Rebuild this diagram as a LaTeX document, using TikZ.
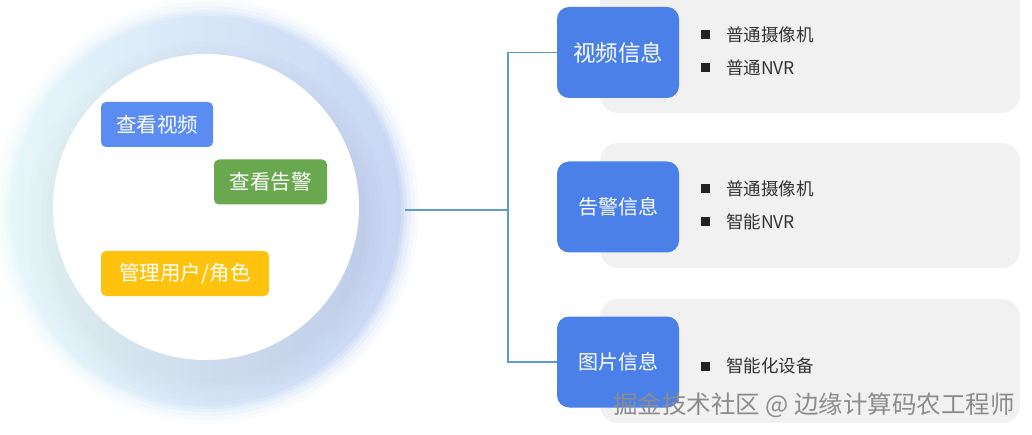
\documentclass[tikz,border=0pt]{standalone}
\usepackage{fontspec}
\setmainfont{Noto Sans CJK SC}
\definecolor{btnblue}{HTML}{5B8CF2}
\definecolor{btngreen}{HTML}{6AA84F}
\definecolor{btnyellow}{HTML}{FFC20E}
\definecolor{boxblue}{HTML}{4A80E8}
\definecolor{panelgray}{HTML}{F1F1F1}
\definecolor{connblue}{HTML}{5B9BD5}
\definecolor{ringleft}{HTML}{E6F7FA}
\definecolor{ringright}{HTML}{C8D6F4}
\definecolor{bullet}{HTML}{222222}
\definecolor{itemtext}{HTML}{333333}
\tikzset{
  btn/.style={rounded corners=5pt, text=white, font=\fontsize{20.5}{20.5}\selectfont, minimum height=45pt, inner sep=0pt},
  catbox/.style={fill=boxblue, rounded corners=12pt, text=white, minimum width=122pt, minimum height=91pt, inner sep=0pt},
  panel/.style={fill=panelgray, rounded corners=18pt, minimum width=420pt, inner sep=0pt},
  sq/.style={fill=bullet, minimum size=9pt, inner sep=0pt},
  item/.style={anchor=west, text=itemtext, font=\fontsize{17.5}{17.5}\selectfont, inner sep=0pt},
  conn/.style={draw=connblue, line width=1.5pt},
}
\begin{document}
\begin{tikzpicture}[x=1pt,y=-1pt]
\useasboundingbox (0,0) rectangle (1032,435);
% glow ring with soft edge (stepped, no transparency)
\foreach \r/\p in {213/10,209/22,205/38,201/58,198/80,195/100}{
  \shade[left color=ringleft!\p!white, right color=ringright!\p!white] (206,211) circle (\r);
}
\node[circle, minimum size=398pt, inner sep=0pt] (ring) at (206,210) {};
% soft shadow under the disc
\foreach \r/\p in {180/99,175/98.2,170/97.4,165/96.6,160/95.8}{
  \shade[left color=ringleft!\p!black, right color=ringright!\p!black] (206,222) circle (\r);
}
% white disc
\node[circle, fill=white, minimum size=306pt, inner sep=0pt] (disc) at (206,207) {};
% buttons
\node[btn, fill=btnblue, minimum width=112pt] (b1) at (157,124.5) {查看视频};
\node[btn, fill=btngreen, minimum width=113pt] (b2) at (270.5,182) {查看告警};
\node[btn, fill=btnyellow, minimum width=168pt] (b3) at (185,273.5) {管理用户/角色};
% panels
\node[panel, minimum height=130pt] (p1) at (810,48) {};
\node[panel, minimum height=125pt] (p2) at (810,205.5) {};
\node[panel, minimum height=124pt] (p3) at (810,361) {};
% category boxes
\node[catbox, font=\fontsize{22.5}{22.5}\selectfont] (c1) at (618,52.5) {视频信息};
\node[catbox, font=\fontsize{20}{20}\selectfont] (c2) at (618,207) {告警信息};
\node[catbox, font=\fontsize{20}{20}\selectfont] (c3) at (618,362) {图片信息};
% bullets and items
\node[sq] (s11) at (705,35) {};
\node[item] (t11) at (726,35) {普通摄像机};
\node[sq] (s12) at (705,68) {};
\node[item] (t12) at (726,68) {普通NVR};
\node[sq] (s21) at (705,189) {};
\node[item] (t21) at (726,189) {普通摄像机};
\node[sq] (s22) at (705,222) {};
\node[item] (t22) at (726,222) {智能NVR};
\node[sq] (s31) at (705,366) {};
\node[item] (t31) at (726,366) {智能化设备};
% connectors
\coordinate (jx) at (508,210);
\draw[conn] (ring.east |- jx) -- (jx);
\draw[conn] (c1.west) -| (jx) |- (c3.west);
% watermark
\node[anchor=west, text=black!45, font=\fontsize{24.5}{24.5}\selectfont, inner sep=0pt] (wm) at (613,405) {掘金技术社区 @ 边缘计算码农工程师};
\end{tikzpicture}
\end{document}
